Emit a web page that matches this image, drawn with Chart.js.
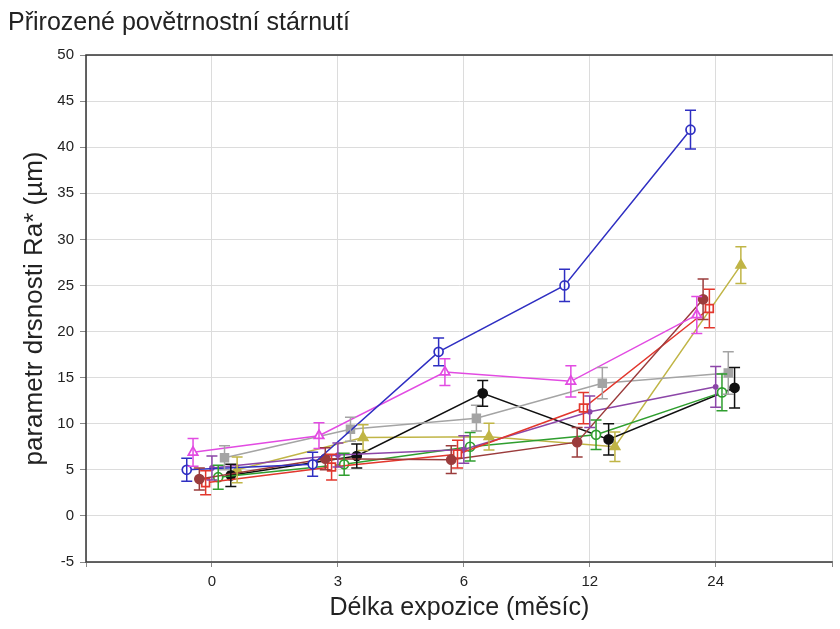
<!DOCTYPE html>
<html>
<head>
<meta charset="utf-8">
<script src="https://cdn.jsdelivr.net/npm/chart.js@4.4.0/dist/chart.umd.min.js"></script>
<style>
  html, body { margin: 0; padding: 0; background: #fff; }
  #wrap { width: 840px; height: 629px; overflow: hidden; }
</style>
</head>
<body>
<div id="wrap"><canvas id="myChart" width="840" height="629"></canvas></div>
<script>
// months of exposure (x categories)
const categories = ['0', '3', '6', '12', '24']

// mean Ra* per series and the half-length of its error bar
const blueVals = [5.0, 5.6, 17.8, 25.0, 41.9]
const blueErr = [1.25, 1.3, 1.5, 1.75, 2.1]
const magentaVals = [6.9, 8.7, 15.6, 14.6, 21.8]
const magentaErr = [1.5, 1.4, 1.45, 1.7, 2.0]
const brownVals = [4.0, 6.2, 6.1, 8.0, 23.5]
const brownErr = [1.2, 1.2, 1.5, 1.6, 2.2]
const redVals = [3.6, 5.3, 6.7, 11.7, 22.5]
const redErr = [1.3, 1.4, 1.5, 1.7, 2.1]
const purpleVals = [5.2, 6.6, 7.2, 11.3, 14.0]
const purpleErr = [1.3, 1.3, 1.5, 1.7, 2.2]
const greenVals = [4.2, 5.6, 7.5, 8.8, 13.4]
const greenErr = [1.3, 1.2, 1.55, 1.6, 2.0]
const grayVals = [6.3, 9.4, 10.6, 14.4, 15.5]
const grayErr = [1.3, 1.3, 1.4, 1.7, 2.3]
const blackVals = [4.4, 6.5, 13.3, 8.3, 13.9]
const blackErr = [1.2, 1.3, 1.4, 1.7, 2.2]
const oliveVals = [5.0, 8.5, 8.6, 7.5, 27.2]
const oliveErr = [1.4, 1.4, 1.45, 1.6, 2.0]

const yTicks = [-5, 0, 5, 10, 15, 20, 25, 30, 35, 40, 45, 50]

const font = 'Arial, "Liberation Sans", sans-serif'

// series in left-to-right dodge order
const series = [
    { vals: blueVals, err: blueErr, color: '#2f2fc2', style: 'circle', fill: false },
    { vals: magentaVals, err: magentaErr, color: '#e24be2', style: 'triangle', fill: false },
    { vals: brownVals, err: brownErr, color: '#9b3c3c', style: 'circle', fill: true },
    { vals: redVals, err: redErr, color: '#e2372d', style: 'rect', fill: false },
    { vals: purpleVals, err: purpleErr, color: '#8c46a8', style: 'circle', fill: true, radius: 2 },
    { vals: greenVals, err: greenErr, color: '#2f9e2f', style: 'circle', fill: false },
    { vals: grayVals, err: grayErr, color: '#a4a4a4', style: 'rect', fill: true },
    { vals: blackVals, err: blackErr, color: '#111111', style: 'circle', fill: true },
    { vals: oliveVals, err: oliveErr, color: '#c0b546', style: 'triangle', fill: true }
]

let datasets = series.map((s, si) => {
    let shift = (si - 4) * 0.05
    return {
        data: s.vals.map((v, i) => ({ x: i + shift, y: v })),
        errors: s.err,
        borderColor: s.color,
        backgroundColor: s.fill ? s.color : '#ffffff',
        pointBorderColor: s.color,
        pointBackgroundColor: s.fill ? s.color : '#ffffff',
        pointStyle: s.style,
        pointRadius: s.radius || (s.style == 'circle' ? 4.5 : 5.5),
        pointBorderWidth: 1.7,
        borderWidth: 1.5,
        tension: 0,
        fill: false
    }
})

// vertical error bars with caps, drawn through the chart scales
const errorBars = {
    id: 'errorBars',
    afterDatasetsDraw(chart) {
        let ctx = chart.ctx
        let xs = chart.scales.x, ys = chart.scales.y
        ctx.save()
        chart.data.datasets.forEach(ds => {
            ctx.strokeStyle = ds.borderColor
            ctx.lineWidth = 1.5
            ds.data.forEach((p, i) => {
                let px = xs.getPixelForValue(p.x)
                let top = ys.getPixelForValue(p.y + ds.errors[i])
                let bot = ys.getPixelForValue(p.y - ds.errors[i])
                ctx.beginPath()
                ctx.moveTo(px, top); ctx.lineTo(px, bot)
                ctx.moveTo(px - 5.5, top); ctx.lineTo(px + 5.5, top)
                ctx.moveTo(px - 5.5, bot); ctx.lineTo(px + 5.5, bot)
                ctx.stroke()
            })
        })
        ctx.restore()
    }
}

// dark frame on top, left and bottom of the plot area
const frame = {
    id: 'frame',
    afterDraw(chart) {
        let a = chart.chartArea, ctx = chart.ctx
        ctx.save()
        ctx.strokeStyle = '#333'
        ctx.lineWidth = 1.5
        ctx.beginPath()
        ctx.moveTo(a.right, a.top); ctx.lineTo(a.left, a.top)
        ctx.lineTo(a.left, a.bottom); ctx.lineTo(a.right, a.bottom)
        ctx.stroke()
        ctx.restore()
    }
}

let myChart = document.getElementById('myChart').getContext('2d')

let roughChart = new Chart(myChart, {
    type: 'line',
    data: { datasets: datasets },
    options: {
        responsive: false,
        animation: false,
        devicePixelRatio: 1,
        layout: { padding: { left: 8, right: 1, top: 0, bottom: 0 } },
        plugins: {
            legend: { display: false },
            tooltip: { enabled: false },
            title: {
                display: true,
                text: 'Přirozené povětrnostní stárnutí',
                align: 'start',
                color: '#222',
                font: { family: font, size: 25, weight: 'normal' },
                padding: { top: 8, bottom: 17 }
            }
        },
        scales: {
            x: {
                type: 'linear',
                min: -1,
                max: 4.93,
                afterBuildTicks: axis => {
                    axis.ticks = [-1, 0, 1, 2, 3, 4, 4.93].map(v => ({ value: v }))
                },
                ticks: {
                    color: '#222',
                    font: { family: font, size: 15 },
                    padding: 6,
                    maxRotation: 0,
                    callback: v => categories[v] !== undefined ? categories[v] : ''
                },
                grid: { color: '#dcdcdc', tickLength: 5, tickColor: '#888' },
                border: { display: false },
                title: {
                    display: true,
                    text: 'Délka expozice (měsíc)',
                    color: '#222',
                    font: { family: font, size: 25 },
                    padding: { top: 4, bottom: 6 }
                },
                afterFit: axis => { axis.height = 67 }
            },
            y: {
                min: -5,
                max: 50,
                afterBuildTicks: axis => {
                    axis.ticks = yTicks.map(v => ({ value: v }))
                },
                ticks: {
                    color: '#222',
                    font: { family: font, size: 15 },
                    padding: 6
                },
                grid: { color: '#dcdcdc', tickLength: 6, tickColor: '#888' },
                border: { display: false },
                title: {
                    display: true,
                    text: 'parametr drsnosti Ra* (µm)',
                    color: '#222',
                    font: { family: font, size: 26 },
                    padding: { top: 11, bottom: 4 }
                },
                afterFit: axis => { axis.width = 78 }
            }
        }
    },
    plugins: [errorBars, frame]
})
</script>
</body>
</html>
